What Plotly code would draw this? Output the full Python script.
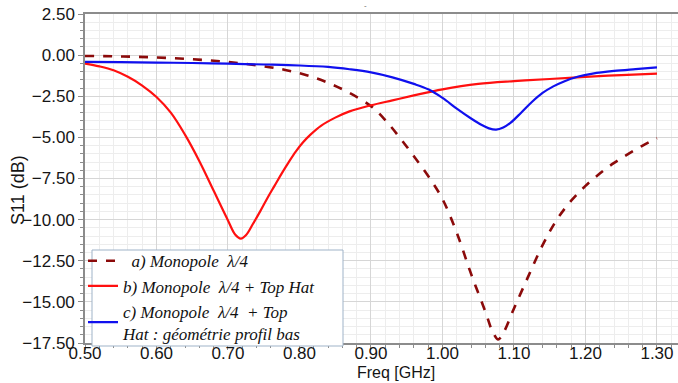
import plotly.graph_objects as go

# ---- data ----
freq_a = [0.50, 0.55, 0.60, 0.65, 0.70, 0.75, 0.78, 0.81, 0.84, 0.87, 0.90, 0.92, 0.94, 0.96,
          0.98, 1.00, 1.02, 1.04, 1.06, 1.07, 1.078, 1.085, 1.10, 1.12, 1.14, 1.16, 1.18, 1.20,
          1.22, 1.24, 1.26, 1.28, 1.30]
s11_a = [-0.05, -0.08, -0.14, -0.25, -0.42, -0.68, -0.90, -1.22, -1.68, -2.30, -3.10, -3.95, -5.00, -6.15,
         -7.35, -8.75, -10.8, -13.3, -15.6, -16.8, -17.28, -16.9, -15.4, -13.45, -11.55, -10.0, -8.85, -7.95,
         -7.20, -6.55, -6.00, -5.50, -5.05]

freq_b = [0.50, 0.52, 0.54, 0.56, 0.58, 0.60, 0.62, 0.64, 0.66, 0.68, 0.70, 0.71, 0.718, 0.725,
          0.735, 0.745, 0.755, 0.765, 0.775, 0.785, 0.795, 0.805, 0.815, 0.83, 0.85, 0.87, 0.90,
          0.93, 0.96, 1.00, 1.05, 1.10, 1.15, 1.20, 1.25, 1.30]
s11_b = [-0.51, -0.68, -0.92, -1.32, -1.85, -2.55, -3.50, -4.85, -6.45, -8.25, -10.05, -10.9, -11.15, -10.95,
         -10.25, -9.50, -8.70, -7.95, -7.20, -6.50, -5.85, -5.30, -4.85, -4.30, -3.80, -3.42, -3.05,
         -2.75, -2.45, -2.08, -1.75, -1.58, -1.45, -1.32, -1.21, -1.12]

freq_c = [0.50, 0.55, 0.60, 0.65, 0.70, 0.75, 0.80, 0.84, 0.87, 0.90, 0.93, 0.96, 0.98, 1.00,
          1.02, 1.04, 1.055, 1.065, 1.075, 1.085, 1.095, 1.11, 1.125, 1.14, 1.155, 1.17, 1.19,
          1.21, 1.24, 1.27, 1.30]
s11_c = [-0.41, -0.43, -0.45, -0.48, -0.52, -0.57, -0.63, -0.72, -0.86, -1.05, -1.35, -1.75, -2.08, -2.60,
         -3.25, -3.85, -4.25, -4.45, -4.53, -4.40, -4.12, -3.50, -2.85, -2.30, -1.90, -1.60, -1.30,
         -1.12, -0.96, -0.85, -0.75]

names = ["\u00a0\u00a0a) Monopole \u00a0\u03bb/4",
         "b) Monopole \u00a0\u03bb/4 + Top Hat",
         "c) Monopole \u00a0\u03bb/4 \u00a0+ Top<br>Hat : géométrie profil bas"]

x_ticks = [0.5, 0.6, 0.7, 0.8, 0.9, 1.0, 1.1, 1.2, 1.3]
y_ticks = [2.5, 0.0, -2.5, -5.0, -7.5, -10.0, -12.5, -15.0, -17.5]

fig = go.Figure()
fig.add_trace(go.Scatter(x=freq_a, y=s11_a, mode="lines", name=names[0],
                         line=dict(color="#8b0a0a", width=2.6, dash="dash", shape="spline")))
fig.add_trace(go.Scatter(x=freq_b, y=s11_b, mode="lines", name=names[1],
                         line=dict(color="#ff1010", width=2.2, shape="spline")))
fig.add_trace(go.Scatter(x=freq_c, y=s11_c, mode="lines", name=names[2],
                         line=dict(color="#1010ee", width=2.2, shape="spline")))

axis_font = dict(family="Liberation Sans, Arial, sans-serif", size=17, color="#151515")
title_font = dict(family="Liberation Sans, Arial, sans-serif", size=18, color="#151515")
xtitle_font = dict(family="Liberation Sans, Arial, sans-serif", size=16, color="#151515")

W, H = 593, 329  # plot area size in px (for paper-coordinate placement)
L, T = 85, 14

def px_x(px):
    return (px - L) / W

def px_y(py):
    return (T + H - py) / H

fig.update_layout(
    width=678, height=383,
    margin=dict(l=L, r=0, t=T, b=40),
    paper_bgcolor="white", plot_bgcolor="white",
    font=axis_font,
    showlegend=True,
    legend=dict(
        x=px_x(83), y=0.285 + 6 / H, xanchor="left", yanchor="top",
        bgcolor="rgba(0,0,0,0)", borderwidth=0,
        font=dict(family="Liberation Serif, Times New Roman, serif", size=17, color="#111111", style="italic"),
        tracegroupgap=0,
    ),
    xaxis=dict(
        range=[0.5, 1.3294], tickvals=x_ticks, tickformat=".2f",
        showgrid=True, gridcolor="#d6d6d6", gridwidth=1,
        showline=True, linecolor="#8c8c8c", linewidth=1.5, mirror=True,
        ticks="outside", ticklen=5, tickcolor="#8c8c8c",
        ticklabelstandoff=-11,
        minor=dict(dtick=0.02, showgrid=True, gridcolor="#ededed", ticks="outside", ticklen=3, tickcolor="#8c8c8c"),
        zeroline=False, tickfont=axis_font,
    ),
    yaxis=dict(
        range=[-17.5, 2.5], tickvals=y_ticks, tickformat=".2f",
        showgrid=True, gridcolor="#d6d6d6", gridwidth=1,
        showline=True, linecolor="#8c8c8c", linewidth=1.5,
        ticks="outside", ticklen=5, tickcolor="#8c8c8c",
        minor=dict(dtick=0.5, showgrid=True, gridcolor="#ededed", ticks="outside", ticklen=3, tickcolor="#8c8c8c"),
        zeroline=False, tickfont=axis_font,
    ),
    shapes=[
        dict(type="rect", xref="paper", yref="paper",
             x0=px_x(92), x1=px_x(343), y0=px_y(346), y1=px_y(250),
             fillcolor="white", line=dict(color="#9fb3c8", width=1), layer="above"),
    ],
    annotations=[
        dict(text="Freq [GHz]", xref="paper", yref="paper", x=px_x(396), y=px_y(383),
             xanchor="center", yanchor="bottom", showarrow=False, font=xtitle_font),
        dict(text="S11 (dB)", xref="paper", yref="paper", x=px_x(18), y=px_y(190),
             xanchor="center", yanchor="middle", textangle=-90, showarrow=False, font=title_font),
        dict(text="-", xref="paper", yref="paper", x=px_x(365), y=px_y(6),
             xanchor="center", yanchor="middle", showarrow=False,
             font=dict(size=8, color="#666666")),
    ],
)

fig.write_html("out.html")
